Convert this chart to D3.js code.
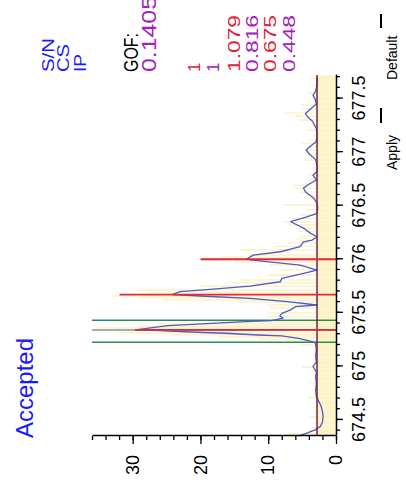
<!DOCTYPE html>
<html>
<head>
<meta charset="utf-8">
<script src="https://cdn.jsdelivr.net/npm/d3@7"></script>
<style>
  html, body { margin: 0; padding: 0; background: #fff; }
  svg { display: block; }
  text { font-family: "Liberation Sans", Arial, sans-serif; }
</style>
</head>
<body>
<script>
// Smoothed profile trace: m/z and intensity
const profileMz = [
  674.35, 674.38, 674.41, 674.44, 674.48, 674.53, 674.58, 674.63, 674.68, 674.72,
  674.78, 674.84, 674.90, 674.95, 675.00, 675.04, 675.10, 675.16, 675.20, 675.225,
  675.262, 675.284, 675.293, 675.309, 675.321, 675.333, 675.34, 675.38, 675.402, 675.417,
  675.427, 675.451, 675.47, 675.495, 675.53, 675.557, 675.573, 675.604, 675.635, 675.657,
  675.67, 675.697, 675.719, 675.75, 675.79, 675.822, 675.868, 675.899, 675.946, 675.977,
  676.00, 676.039, 676.07, 676.117, 676.163, 676.179, 676.21, 676.244, 676.291, 676.338,
  676.352, 676.396, 676.428, 676.48, 676.524, 676.571, 676.627, 676.665, 676.70, 676.74,
  676.785, 676.82, 676.88, 676.93, 676.98, 677.02, 677.06, 677.10, 677.16, 677.22,
  677.29, 677.33, 677.36, 677.40, 677.45, 677.50, 677.53, 677.57, 677.63, 677.70
];
const profileInt = [
  5.6, 4.2, 3.0, 2.3, 2.0, 1.9, 2.0, 2.2, 2.6, 2.9,
  3.0, 2.9, 3.0, 2.9, 3.4, 2.9, 3.0, 2.9, 3.0, 3.1,
  5.5, 8.0, 11.5, 16.3, 21.3, 26.2, 29.6, 24.8, 18.3, 13.4,
  9.5, 7.8, 8.3, 8.0, 6.6, 6.0, 2.8, 7.2, 12.7, 20.0,
  24.15, 23.0, 18.6, 12.7, 8.2, 8.0, 4.8, 2.8, 5.3, 10.2,
  13.26, 12.2, 8.2, 5.3, 4.8, 3.5, 2.8, 3.8, 4.8, 6.3,
  6.7, 4.3, 2.8, 2.7, 2.8, 3.3, 4.5, 4.8, 4.0, 2.9,
  3.4, 2.8, 2.8, 3.0, 3.9, 4.4, 3.7, 2.9, 2.8, 2.9,
  3.5, 4.2, 4.5, 3.8, 2.9, 3.1, 3.4, 3.0, 2.8, 2.8
];

// Raw data sticks: m/z and intensity
const rawMz = [
  674.369, 674.40, 674.425, 674.47, 674.528, 674.58, 674.621, 674.66, 674.705, 674.745,
  674.78, 674.845, 674.88, 674.92, 674.96, 674.994, 675.03, 675.06, 675.11, 675.153,
  675.20, 675.235, 675.256, 675.274, 675.295, 675.312, 675.336, 675.358, 675.375, 675.396,
  675.415, 675.46, 675.498, 675.545, 675.573, 675.60, 675.619, 675.64, 675.657, 675.69,
  675.713, 675.75, 675.78, 675.806, 675.853, 675.90, 675.946, 675.975, 675.993, 676.02,
  676.039, 676.086, 676.12, 676.151, 676.19, 676.216, 676.26, 676.291, 676.32, 676.347,
  676.38, 676.412, 676.46, 676.506, 676.571, 676.60, 676.627, 676.664, 676.692, 676.74,
  676.785, 676.851, 676.89, 676.925, 676.97, 677.019, 677.05, 677.084, 677.112, 677.16,
  677.205, 677.25, 677.30, 677.335, 677.364, 677.40, 677.438, 677.50, 677.55, 677.625,
  677.69
];
const rawInt = [
  7.2, 4.0, 3.8, 3.3, 3.8, 3.2, 3.4, 3.1, 4.1, 3.3,
  3.5, 3.8, 3.1, 3.2, 3.6, 5.0, 3.3, 3.2, 3.4, 3.1,
  5.3, 7.5, 11.5, 17.4, 24.0, 32.1, 30.5, 35.1, 29.0, 26.0,
  18.0, 10.4, 10.1, 9.7, 10.1, 14.5, 25.5, 29.0, 33.0, 27.5,
  29.3, 20.0, 15.5, 14.1, 10.1, 8.2, 9.7, 15.0, 20.0, 17.0,
  13.1, 14.1, 9.0, 7.2, 6.0, 5.3, 5.5, 6.0, 7.0, 7.8,
  6.5, 5.3, 4.5, 7.9, 4.5, 4.2, 5.3, 6.3, 6.3, 4.0,
  4.1, 3.8, 3.5, 5.0, 4.0, 4.5, 4.2, 5.0, 3.8, 3.5,
  4.4, 3.6, 5.3, 6.0, 7.9, 5.0, 5.3, 3.6, 4.1, 3.5,
  3.8
];

// Isotope pattern: centroid positions, theoretical and measured ratios
const peakMz = [675.34, 675.67, 676.0];
const theoRatio = [1, 1.079, 0.675];
const measRatio = [1, 0.816, 0.448];
const monoInt = 29.6;
const windowMz = [675.225, 675.43];
const baselineInt = 2.8;
const gofValue = "0.1405";

const mzTicks = [674.5, 675, 675.5, 676, 676.5, 677, 677.5];
const mzMinor = d3.range(674.4, 677.75, 0.1).map(v => +v.toFixed(1));
const intTicks = [0, 10, 20, 30];
const intMinor = d3.range(0, 37, 2);

const W = 406, H = 484;
const svg = d3.select("body").append("svg").attr("width", W).attr("height", H);

// The whole panel is laid out normally, then turned a quarter-turn counter-clockwise
const g = svg.append("g").attr("transform", `translate(0,${H}) rotate(-90)`);

const x = d3.scaleLinear().domain([674.35, 677.72]).range([48, 409]);
const y = d3.scaleLinear().domain([0, 36]).range([336, 92]);

const BAND = "#fdf5cc";
const STICK = "#fcf1c6";

// noise band below the baseline
g.append("rect")
  .attr("x", x.range()[0]).attr("width", x.range()[1] - x.range()[0])
  .attr("y", y(baselineInt)).attr("height", y(0) - y(baselineInt))
  .attr("fill", BAND);

// raw sticks
g.append("g").selectAll("line").data(rawMz.map((m, i) => [m, rawInt[i]])).join("line")
  .attr("x1", d => x(d[0])).attr("x2", d => x(d[0]))
  .attr("y1", y(0)).attr("y2", d => y(d[1]))
  .attr("stroke", STICK).attr("stroke-width", 1.4);

// peak window markers
g.append("g").selectAll("line").data(windowMz).join("line")
  .attr("x1", d => x(d)).attr("x2", d => x(d))
  .attr("y1", y(0)).attr("y2", y(36))
  .attr("stroke", "#2e8b57").attr("stroke-width", 1.6);

// monoisotopic marker
g.append("line")
  .attr("x1", x(peakMz[0])).attr("x2", x(peakMz[0]))
  .attr("y1", y(0)).attr("y2", y(36))
  .attr("stroke", "#909090").attr("stroke-width", 1.4);

// profile trace
const line = d3.line().x((d, i) => x(profileMz[i])).y(d => y(d));
g.append("path").datum(profileInt)
  .attr("d", line)
  .attr("fill", "none").attr("stroke", "#4a5cc6").attr("stroke-width", 1.3)
  .attr("stroke-linejoin", "round");

// baseline level
g.append("line")
  .attr("x1", x.range()[0]).attr("x2", x.range()[1])
  .attr("y1", y(baselineInt)).attr("y2", y(baselineInt))
  .attr("stroke", "#7a1c45").attr("stroke-width", 1.5);

// theoretical isotope sticks
g.append("g").selectAll("line").data(peakMz).join("line")
  .attr("x1", d => x(d)).attr("x2", d => x(d))
  .attr("y1", y(0)).attr("y2", (d, i) => y(monoInt * theoRatio[i]))
  .attr("stroke", "#e0283c").attr("stroke-width", 1.8);

// axes
const fmt = d => String(d);
const axX = g.append("g").attr("transform", `translate(0,${y(0)})`);
axX.call(d3.axisBottom(x).tickValues(mzMinor).tickSize(4).tickFormat("").tickSizeOuter(0));
axX.append("g").call(d3.axisBottom(x).tickValues(mzTicks).tickSize(7).tickPadding(9).tickFormat(fmt).tickSizeOuter(0))
  .call(s => s.select(".domain").remove());
const axY = g.append("g").attr("transform", `translate(${x.range()[0]},0)`);
axY.call(d3.axisLeft(y).tickValues(intMinor).tickSize(4).tickFormat("").tickSizeOuter(0));
axY.append("g").call(d3.axisLeft(y).tickValues(intTicks).tickSize(8).tickPadding(11).tickFormat(fmt).tickSizeOuter(0))
  .call(s => s.select(".domain").remove());
g.selectAll(".domain").attr("stroke", "#000").attr("stroke-width", 1.5);
g.selectAll(".tick line").attr("stroke", "#000").attr("stroke-width", 1.3);
g.selectAll(".tick text").attr("font-size", 18).attr("fill", "#000")
  .attr("font-family", "'Liberation Sans', Arial, sans-serif");

// status and statistics text
const BLUE = "#1a1aff", PURPLE = "#a020c0", RED = "#e0203a";
const texts = [
  { t: "Accepted", u: 46, v: 33, fs: 24, c: BLUE },
  { t: "S/N", u: 412, v: 54, fs: 16, c: BLUE, len: 34 },
  { t: "CS", u: 412, v: 69, fs: 16, c: BLUE, len: 28 },
  { t: "IP", u: 412, v: 86, fs: 16, c: BLUE, len: 18 },
  { t: "GOF:", u: 412, v: 138, fs: 20, c: "#000", len: 39 },
  { t: gofValue, u: 412, v: 156, fs: 20, c: PURPLE, len: 76 },
  { t: String(theoRatio[0]), u: 412, v: 200, fs: 17, c: RED },
  { t: String(measRatio[0]), u: 412, v: 219, fs: 17, c: PURPLE },
  { t: String(theoRatio[1]), u: 412, v: 240, fs: 17, c: RED, len: 57 },
  { t: String(measRatio[1]), u: 412, v: 258, fs: 17, c: PURPLE, len: 57 },
  { t: String(theoRatio[2]), u: 412, v: 276, fs: 17, c: RED, len: 57 },
  { t: String(measRatio[2]), u: 412, v: 295, fs: 17, c: PURPLE, len: 57 },
  { t: "Apply", u: 314, v: 397, fs: 14, c: "#000" },
  { t: "Default", u: 404, v: 397, fs: 14, c: "#000" }
];
g.append("g").selectAll("text").data(texts).join("text")
  .attr("x", d => d.u).attr("y", d => d.v)
  .attr("font-size", d => d.fs).attr("fill", d => d.c)
  .each(function (d) {
    if (d.len) d3.select(this).attr("textLength", d.len).attr("lengthAdjust", "spacingAndGlyphs");
  })
  .text(d => d.t);

// button separators
g.append("g").selectAll("line").data([[361, 376], [456, 470]]).join("line")
  .attr("x1", d => d[0]).attr("x2", d => d[1])
  .attr("y1", 381).attr("y2", 381)
  .attr("stroke", "#000").attr("stroke-width", 2);
</script>
</body>
</html>
